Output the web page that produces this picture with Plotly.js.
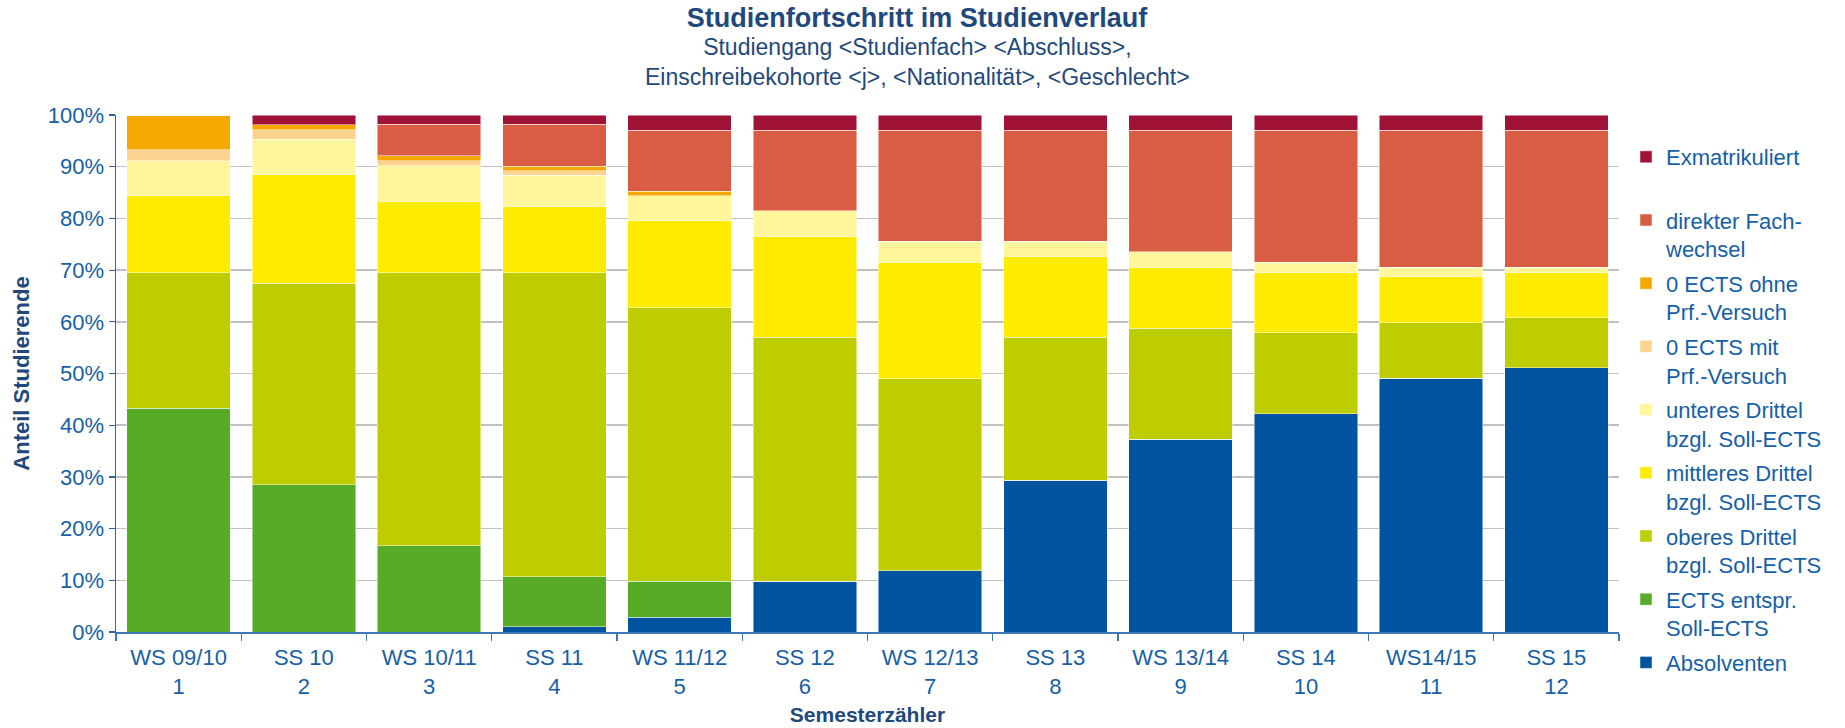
<!DOCTYPE html>
<html>
<head>
<meta charset="utf-8">
<script src="https://cdn.plot.ly/plotly-3.0.1.min.js"></script>
<style>html,body{margin:0;padding:0;background:#fff;}#chart{width:1845px;height:728px;}</style>
</head>
<body>
<div id="chart"></div>
<script>
// Semesters and counters
const semesters = ["WS 09/10", "SS 10", "WS 10/11", "SS 11", "WS 11/12", "SS 12", "WS 12/13", "SS 13", "WS 13/14", "SS 14", "WS14/15", "SS 15"];
const counters = ["1", "2", "3", "4", "5", "6", "7", "8", "9", "10", "11", "12"];

// Series values (% of students), bottom to top of each stack
const absolventen = [0, 0, 0, 1.0, 2.9, 9.8, 11.8, 29.4, 37.3, 42.2, 49.1, 51.1];
const ectsEntspr = [43.3, 28.5, 16.7, 9.7, 6.9, 0, 0, 0, 0, 0, 0, 0];
const oberesDrittel = [26.2, 39.0, 52.8, 58.8, 52.9, 47.2, 37.2, 27.6, 21.5, 15.7, 10.7, 9.7];
const mittleresDrittel = [14.9, 20.9, 13.7, 12.8, 16.8, 19.5, 22.5, 15.6, 11.8, 11.6, 8.9, 8.7];
const unteresDrittel = [6.8, 6.9, 7.0, 6.0, 4.9, 5.0, 4.1, 3.0, 2.95, 2.0, 1.9, 1.1];
const nullEctsMit = [2.05, 1.8, 1.0, 0.9, 0, 0, 0, 0, 0, 0, 0, 0];
const nullEctsOhne = [6.75, 1.0, 0.9, 0.9, 0.9, 0, 0, 0, 0, 0, 0, 0];
const direkterFachwechsel = [0, 0, 6.1, 8.1, 11.75, 15.55, 21.45, 21.45, 23.5, 25.55, 26.45, 26.45];
const exmatrikuliert = [0, 1.9, 1.8, 1.8, 2.95, 2.95, 2.95, 2.95, 2.95, 2.95, 2.95, 2.95];

const seriesNames = ["Absolventen<br>&nbsp;", "ECTS entspr.<br>Soll-ECTS", "oberes Drittel<br>bzgl. Soll-ECTS", "mittleres Drittel<br>bzgl. Soll-ECTS", "unteres Drittel<br>bzgl. Soll-ECTS", "0 ECTS mit<br>Prf.-Versuch", "0 ECTS ohne<br>Prf.-Versuch", "direkter Fach-<br>wechsel", "Exmatrikuliert<br>&nbsp;"];
const seriesValues = [absolventen, ectsEntspr, oberesDrittel, mittleresDrittel, unteresDrittel, nullEctsMit, nullEctsOhne, direkterFachwechsel, exmatrikuliert];
const seriesColors = ["#00549F", "#57AB27", "#BDCD00", "#FFEB00", "#FFF59B", "#FDD48F", "#F6A800", "#D95D43", "#A11237"];

const xLabels = semesters.map((s, i) => s + "<br>" + counters[i]);

const FONT = "Liberation Sans, Arial, sans-serif";
const tickBlue = "#1560A8";
const navy = "#1F497D";

const traces = seriesValues.map((vals, k) => ({
  type: "bar",
  name: seriesNames[k],
  legendgroup: "g" + k,
  legendrank: (seriesValues.length - k) * 10,
  x: xLabels,
  y: vals,
  marker: {color: seriesColors[k], line: {color: "rgba(255,255,255,0.6)", width: 0.8}},
  hoverinfo: "name+y"
}));

const layout = {
  width: 1845, height: 728,
  paper_bgcolor: "#fff", plot_bgcolor: "#fff",
  font: {family: FONT, color: tickBlue},
  barmode: "stack",
  bargap: 0.173,
  margin: {l: 116, r: 226, t: 115, b: 96},
  title: {
    text: "<b>Studienfortschritt im Studienverlauf</b>",
    font: {family: FONT, size: 27, color: navy},
    x: 0.497, xref: "container", xanchor: "center",
    y: 1 - 18/728, yref: "container", yanchor: "middle"
  },
  annotations: [{
    text: "Studiengang &lt;Studienfach&gt; &lt;Abschluss&gt;,<br>Einschreibekohorte &lt;j&gt;, &lt;Nationalität&gt;, &lt;Geschlecht&gt;",
    xref: "paper", yref: "paper",
    x: (917 - 116) / 1503, y: 1 + (115 - 62) / 517,
    xanchor: "center", yanchor: "middle",
    showarrow: false,
    font: {family: FONT, size: 23, color: navy}
  }],
  xaxis: {
    type: "category",
    tickfont: {family: FONT, size: 22, color: tickBlue},
    showline: true, linecolor: "#3C78B8", linewidth: 1.5,
    ticks: "outside", tickson: "boundaries", ticklen: 7, tickcolor: "#3C78B8", tickwidth: 1.2,
    ticklabelstandoff: 5,
    showgrid: false,
    title: {text: "<b>Semesterzähler</b>", font: {family: FONT, size: 21, color: navy}, standoff: 10},
    automargin: false
  },
  yaxis: {
    range: [0, 100],
    dtick: 10, tick0: 0,
    ticksuffix: "%",
    tickfont: {family: FONT, size: 22, color: tickBlue},
    showline: true, linecolor: "#2E66A8", linewidth: 1.5,
    ticks: "outside", ticklen: 6, tickcolor: "#2E66A8", tickwidth: 1.2,
    showgrid: true, gridcolor: "#C0C0C0", gridwidth: 1.5,
    zeroline: false,
    title: {text: "<b>Anteil Studierende</b>", font: {family: FONT, size: 22, color: navy}, standoff: 12},
    automargin: false
  },
  legend: {
    traceorder: "grouped",
    valign: "top",
    font: {family: FONT, size: 22, color: tickBlue},
    xref: "container", yref: "container",
    x: 1626 / 1845, xanchor: "left",
    y: 1 - 136 / 728, yanchor: "top",
    maxheight: 720,
    tracegroupgap: 3,
    itemclick: false
  },
  showlegend: true
};

Plotly.newPlot("chart", traces, layout, {displayModeBar: false, staticPlot: true});
</script>
</body>
</html>
